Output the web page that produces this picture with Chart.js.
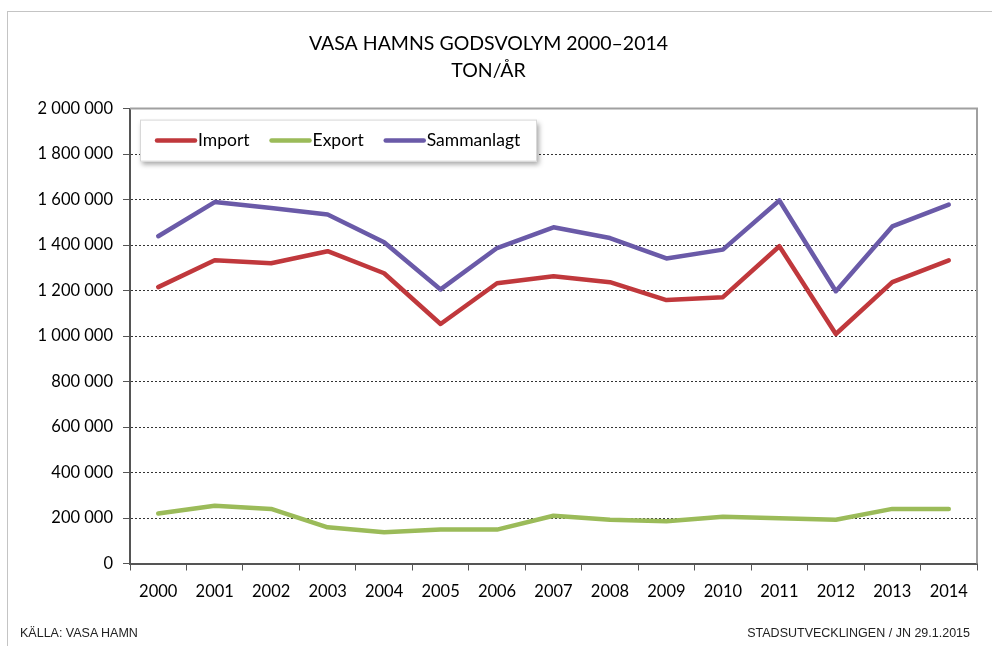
<!DOCTYPE html>
<html>
<head>
<meta charset="utf-8">
<script src="https://cdn.jsdelivr.net/npm/chart.js@4"></script>
<style>
  html, body { margin: 0; padding: 0; background: #fff; }
  #wrap { position: relative; width: 992px; height: 646px; overflow: hidden; }
  #frame { position: absolute; left: 7px; top: 11px; right: -5px; bottom: -5px;
           border-left: 1px solid #c4c4c4; border-top: 1px solid #c4c4c4; }
  canvas { position: absolute; left: 0; top: 0; }
  .note { position: absolute; top: 626px; font: 12.5px "Liberation Sans Narrow", "Arial Narrow", "Liberation Sans", sans-serif; color: #222; }
</style>
</head>
<body>
<div id="wrap">
  <div id="frame"></div>
  <canvas id="chartHamn" width="992" height="646"></canvas>
  <div class="note" style="left:20px;">KÄLLA: VASA HAMN</div>
  <div class="note" style="right:22px;">STADSUTVECKLINGEN / JN 29.1.2015</div>
</div>
<script>
const years = ['2000', '2001', '2002', '2003', '2004', '2005', '2006', '2007', '2008', '2009', '2010', '2011', '2012', '2013', '2014'];
const importVals = [1215000, 1333000, 1320000, 1373000, 1276000, 1053000, 1232000, 1263000, 1237000, 1158000, 1171000, 1395000, 1009000, 1237000, 1333000];
const exportVals = [220000, 254000, 240000, 159000, 137000, 149000, 149000, 210000, 192000, 186000, 206000, 199000, 192000, 240000, 240000];
const totalVals = [1439000, 1589000, 1563000, 1534000, 1412000, 1205000, 1387000, 1478000, 1431000, 1341000, 1380000, 1596000, 1197000, 1482000, 1578000];
const seriesNames = ['Import', 'Export', 'Sammanlagt'];
const titleLines = ['VASA HAMNS GODSVOLYM 2000–2014', 'TON/ÅR'];

const fontFam = 'Lato, "Open Sans", sans-serif';

function fmt(v) {
  return v.toString().replace(/\B(?=(\d{3})+(?!\d))/g, ' ');
}

// gray frame round the plot, drawn after the grid
const plotFrame = {
  id: 'plotFrame',
  afterDraw(chart) {
    const a = chart.chartArea, c = chart.ctx;
    c.save();
    c.strokeStyle = '#a0a0a0';
    c.lineWidth = 2;
    c.beginPath();
    c.moveTo(a.left, a.top);
    c.lineTo(a.right, a.top);
    c.lineTo(a.right, a.bottom);
    c.stroke();
    c.restore();
  }
};

// legend box in the upper left corner of the plot
const boxLegend = {
  id: 'boxLegend',
  afterDraw(chart) {
    const a = chart.chartArea, c = chart.ctx;
    const x0 = a.left + 10, y0 = a.top + 11, w = 397, h = 42;
    c.save();
    c.shadowColor = 'rgba(0,0,0,0.35)';
    c.shadowBlur = 5;
    c.shadowOffsetX = 2;
    c.shadowOffsetY = 3;
    c.fillStyle = '#fff';
    c.fillRect(x0, y0, w, h);
    c.restore();
    c.save();
    c.strokeStyle = '#d8d8d8';
    c.lineWidth = 1;
    c.strokeRect(x0 + 0.5, y0 + 0.5, w - 1, h - 1);
    c.font = '17.5px ' + fontFam;
    c.textBaseline = 'middle';
    c.fillStyle = '#000';
    let x = x0 + 15;
    const y = y0 + h / 2;
    chart.data.datasets.forEach(ds => {
      c.strokeStyle = ds.borderColor;
      c.lineWidth = 4.5;
      c.lineCap = 'round';
      c.beginPath();
      c.moveTo(x + 2, y);
      c.lineTo(x + 40, y);
      c.stroke();
      c.fillText(ds.label, x + 43, y);
      x += 43 + c.measureText(ds.label).width + 20;
    });
    c.restore();
  }
};

const ctx = document.getElementById('chartHamn');

new Chart(ctx, {
  type: 'line',
  data: {
    labels: years,
    datasets: [
      { label: seriesNames[0], data: importVals, borderColor: '#c0383c' },
      { label: seriesNames[1], data: exportVals, borderColor: '#9bbb59' },
      { label: seriesNames[2], data: totalVals, borderColor: '#6a5aa8' }
    ]
  },
  options: {
    responsive: false,
    animation: false,
    layout: { padding: { left: 0, right: 15, top: 0, bottom: 0 } },
    elements: {
      line: { borderWidth: 4.5, tension: 0, borderJoinStyle: 'round', borderCapStyle: 'round' },
      point: { radius: 0, hoverRadius: 0 }
    },
    plugins: {
      legend: { display: false },
      tooltip: { enabled: false },
      title: {
        display: true,
        text: titleLines,
        color: '#000',
        font: { family: fontFam, size: 19.5, weight: 'normal', lineHeight: 1.4 },
        padding: { top: 30, bottom: 24 }
      }
    },
    scales: {
      x: {
        offset: true,
        grid: { display: true, drawOnChartArea: false, drawTicks: true, tickLength: 7, color: '#555', offset: true },
        border: { display: true, color: '#555', width: 2 },
        ticks: { color: '#000', font: { family: fontFam, size: 16.5 }, padding: 11, maxRotation: 0 },
        afterFit(scale) { scale.height = 82.5; }
      },
      y: {
        min: 0,
        max: 2000000,
        grid: { color: '#333', lineWidth: 1, tickLength: 7, tickColor: '#555' },
        border: { display: true, color: '#555', width: 2, dash: [2, 2] },
        ticks: { stepSize: 200000, color: '#000', font: { family: fontFam, size: 16.5 }, padding: 10, callback: v => fmt(v) },
        afterFit(scale) { scale.width = 130; }
      }
    }
  },
  plugins: [plotFrame, boxLegend]
});
</script>
</body>
</html>
